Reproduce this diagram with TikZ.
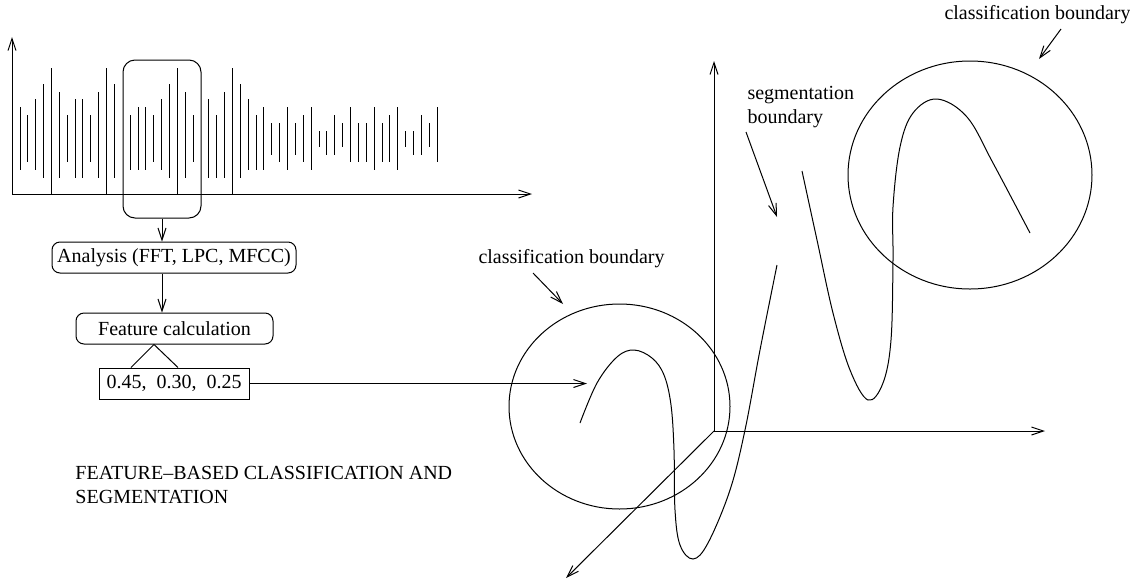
\documentclass[tikz,border=0pt]{standalone}
\usepackage{fontspec}
\setmainfont{Liberation Serif}
\usetikzlibrary{arrows.meta, positioning, calc}

\tikzset{
  stagebox/.style={draw, rounded corners=4pt, inner sep=0pt, minimum height=15.5pt},
  valbox/.style={draw, inner sep=0pt, minimum height=15.5pt, minimum width=75pt},
  note/.style={inner sep=0pt},
}

\begin{document}
\begin{tikzpicture}[x=0.5pt, y=-0.5pt, line width=0.5pt, >={Straight Barb[length=6pt,width=4pt]},
    font=\fontsize{10}{12}\selectfont]
    \useasboundingbox (0,0) rectangle (1130,579);

    % signal
    \coordinate (O1) at (12,194);
    \coordinate (y1) at (12,37);
    \coordinate (x1) at (532,194);
    \draw[->] (O1) -- (y1);
    \draw[->] (O1) -- (x1);
    \foreach \i/\t/\b in {0/107/170, 1/115/162, 2/99/170, 3/84/178, 4/68/194, 5/92/178,
        6/115/162, 7/99/178, 8/99/178, 9/115/162, 10/92/178, 11/68/194, 12/84/178,
        14/115/170, 15/107/170, 16/107/170, 17/115/162, 18/99/170, 19/84/178, 20/68/194,
        21/92/178, 22/115/162, 24/99/178, 25/115/178, 26/92/178, 27/68/194, 28/84/178,
        29/99/170, 30/115/170, 31/107/170, 32/123/155, 33/123/162, 34/107/170, 35/123/155,
        36/115/162, 37/107/170, 38/131/147, 39/131/155, 40/115/155, 41/123/147, 42/107/162,
        43/123/162, 44/123/162, 45/107/170, 46/123/162, 47/115/162, 48/107/170, 49/131/147,
        50/131/155, 51/115/155, 52/123/147, 53/107/162}
        \draw ({20+7.87*\i},\t) -- ({20+7.87*\i},\b);

    \node[draw, rounded corners=6pt, minimum width=39pt, minimum height=79pt] (win) at (162,139) {};
    \node[stagebox, minimum width=122pt] (ana) at (174,257.5) {Analysis (FFT, LPC, MFCC)};
    \node[stagebox, minimum width=98.5pt] (feat) at (174.5,328.5) {Feature calculation};
    \node[valbox] (val) at (174,383.5) {0.45,\ \ 0.30,\ \ 0.25};

    \draw[->] (win.south) -- (win.south |- ana.north);
    \draw[->] (win.south |- ana.south) -- (win.south |- feat.north);
    \draw ($(val.north)+(-43,0)$) -- ($(feat.south)+(-20.5,0)$) -- ($(val.north)+(4,0)$);

    \coordinate (hit) at (587,383.5);
    \draw[->] (val.east) -- (hit);

    % feature space
    \coordinate (O2) at (714,431);
    \coordinate (y2) at (714,61);
    \coordinate (x2) at (1045,431);
    \coordinate (z2) at (566,578);
    \draw[->] (O2) -- (y2);
    \draw[->] (O2) -- (x2);
    \draw[->] (O2) -- (z2);

    \draw (619.5,406.5) ellipse [x radius=110.5, y radius=102.5];
    \draw (970,175) ellipse [x radius=122, y radius=114];

    \draw plot[smooth, tension=0.6] coordinates {(580,423) (597,383) (617,357) (634,350)
        (652,358) (664,375) (671,405) (674,450) (675,510) (680,545) (693,559) (708,543)
        (730,490) (745,430) (760,350) (777,265)};
    \draw plot[smooth, tension=0.6] coordinates {(802,171) (817,240) (833,313) (850,370)
        (868,400) (883,383) (891,340) (893,260) (893,207) (900,147) (913,113) (937,99)
        (967,117) (993,163) (1030,233)};

    \node[note, anchor=base west] (cbl) at (478,263.5) {classification boundary};
    \node[note, anchor=base west] (cbr) at (944,19.5) {classification boundary};
    \node[note, anchor=north west, align=left] (seg) at (747,86) {segmentation\\boundary};
    \node[note, anchor=north west, align=left] (title) at (75,465.5)
        {FEATURE--BASED CLASSIFICATION AND\\SEGMENTATION};

    \coordinate (cbl-a) at (533,273);
    \coordinate (cbl-b) at (563,304);
    \coordinate (cbr-a) at (1061,29);
    \coordinate (cbr-b) at (1039,59);
    \coordinate (seg-a) at (746,132);
    \coordinate (seg-b) at (777,217);
    \draw[->] (cbl-a) -- (cbl-b);
    \draw[->] (cbr-a) -- (cbr-b);
    \draw[->] (seg-a) -- (seg-b);
\end{tikzpicture}
\end{document}
